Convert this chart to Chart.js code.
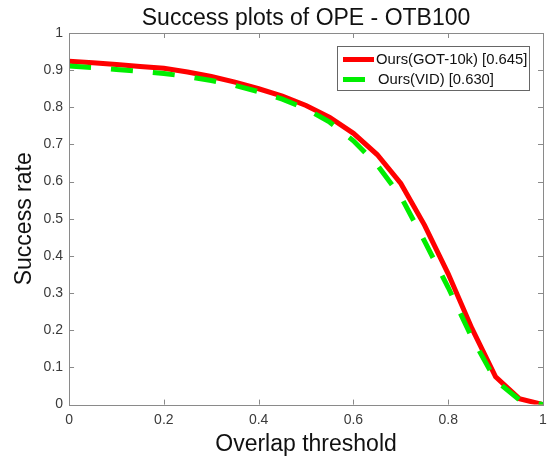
<!DOCTYPE html>
<html><head><meta charset="utf-8">
<script src="https://cdn.jsdelivr.net/npm/chart.js@4.4.1/dist/chart.umd.min.js"></script>
<style>html,body{margin:0;padding:0;background:#fff}#wrap{width:550px;height:460px}</style>
</head><body><div id="wrap"><canvas id="c" width="550" height="460"></canvas></div>
<script>
const thresholds = [0,0.05,0.1,0.15,0.2,0.25,0.3,0.35,0.4,0.45,0.5,0.55,0.6,0.65,0.7,0.75,0.8,0.85,0.9,0.95,1];
const gotValues = [0.924,0.92,0.915,0.91,0.905,0.895,0.883,0.868,0.85,0.83,0.805,0.773,0.73,0.673,0.595,0.483,0.352,0.205,0.075,0.016,0.0];
const vidValues = [0.911,0.907,0.902,0.897,0.891,0.883,0.872,0.859,0.842,0.822,0.796,0.76,0.71,0.645,0.56,0.44,0.315,0.18,0.065,0.013,0.0];
const seriesNames = ['Ours(GOT-10k) [0.645]','Ours(VID) [0.630]'];
const titleText = 'Success plots of OPE - OTB100';
const xTicks = [0,0.2,0.4,0.6,0.8,1];
const yTicks = [0,0.1,0.2,0.3,0.4,0.5,0.6,0.7,0.8,0.9,1];

const FONT = '"Liberation Sans", Arial, sans-serif';
const AXC = '#8a8a8a';

const boxPlugin = {
  id: 'boxPlugin',
  afterDraw(chart) {
    const ctx = chart.ctx, a = chart.chartArea;
    const xs = chart.scales.x, ys = chart.scales.y;
    ctx.save();
    ctx.strokeStyle = AXC; ctx.lineWidth = 1;
    ctx.strokeRect(Math.round(a.left)+0.5, Math.round(a.top)+0.5, Math.round(a.right-a.left), Math.round(a.bottom-a.top));
    const L = 5;
    ctx.beginPath();
    xTicks.forEach(v => {
      const px = Math.round(xs.getPixelForValue(v)) + 0.5;
      ctx.moveTo(px, a.bottom); ctx.lineTo(px, a.bottom - L);
      ctx.moveTo(px, a.top); ctx.lineTo(px, a.top + L);
    });
    yTicks.forEach(v => {
      const py = Math.round(ys.getPixelForValue(v)) + 0.5;
      ctx.moveTo(a.left, py); ctx.lineTo(a.left + L, py);
      ctx.moveTo(a.right, py); ctx.lineTo(a.right - L, py);
    });
    ctx.stroke();
    // title
    ctx.fillStyle = '#111';
    ctx.font = '23px ' + FONT;
    ctx.textAlign = 'center'; ctx.textBaseline = 'alphabetic';
    ctx.fillText(titleText, (a.left + a.right) / 2, 25);
    // legend
    const lx = 337, ly = 46, lw = 192, lh = 44;
    ctx.fillStyle = '#fff';
    ctx.fillRect(lx, ly, lw, lh);
    ctx.strokeStyle = '#666'; ctx.lineWidth = 1;
    ctx.strokeRect(lx + 0.5, ly + 0.5, lw, lh);
    ctx.font = '14.8px ' + FONT;
    ctx.textAlign = 'left'; ctx.textBaseline = 'middle';
    const rows = [{c:'#ff0000', y: ly + 13.5, x2: lx + 37}, {c:'#00ee00', y: ly + 33.5, x2: lx + 28}];
    rows.forEach((r, i) => {
      ctx.strokeStyle = r.c; ctx.lineWidth = 5; ctx.setLineDash([]);
      ctx.beginPath();
      ctx.moveTo(lx + 6, r.y); ctx.lineTo(r.x2, r.y);
      ctx.stroke();
      ctx.fillStyle = '#111';
      ctx.fillText(seriesNames[i], lx + (i === 0 ? 39 : 41), r.y + 0.5);
    });
    ctx.restore();
  }
};

new Chart(document.getElementById('c'), {
  type: 'scatter',
  data: {
    datasets: [
      { label: seriesNames[0], data: thresholds.map((t,i)=>({x:t,y:gotValues[i]})), showLine: true,
        borderColor: '#ff0000', backgroundColor: '#ff0000', borderWidth: 5, pointRadius: 0, order: 2, tension: 0 },
      { label: seriesNames[1], data: thresholds.map((t,i)=>({x:t,y:vidValues[i]})), showLine: true,
        borderColor: '#00ee00', backgroundColor: '#00ee00', borderWidth: 5, borderDash: [22,20], pointRadius: 0, order: 1, tension: 0 }
    ]
  },
  options: {
    responsive: false, animation: false,
    layout: { padding: { top: 33, right: 7, left: 11, bottom: 1.7 } },
    plugins: { legend: { display: false }, title: { display: false }, tooltip: { enabled: false } },
    scales: {
      x: { type: 'linear', min: 0, max: 1,
        afterBuildTicks: s => { s.ticks = xTicks.map(v => ({value: v})); },
        ticks: { font: { family: FONT, size: 14 }, color: '#3a3a3a', padding: 0, maxRotation: 0,
          callback: v => String(v) },
        grid: { display: true, drawOnChartArea: false, drawTicks: true, tickLength: 7.6, color: 'rgba(0,0,0,0)' }, border: { display: false },
        title: { display: true, text: 'Overlap threshold', font: { family: FONT, size: 23 }, color: '#111', padding: { top: 1.7, bottom: 0 } } },
      y: { type: 'linear', min: 0, max: 1,
        afterBuildTicks: s => { s.ticks = yTicks.map(v => ({value: v})); },
        ticks: { font: { family: FONT, size: 14 }, color: '#3a3a3a', padding: 6,
          callback: v => String(v) },
        grid: { display: false, drawTicks: false }, border: { display: false },
        title: { display: true, text: 'Success rate', font: { family: FONT, size: 23 }, color: '#111', padding: { top: 0, bottom: -1 } } }
    }
  },
  plugins: [boxPlugin]
});
</script></body></html>
